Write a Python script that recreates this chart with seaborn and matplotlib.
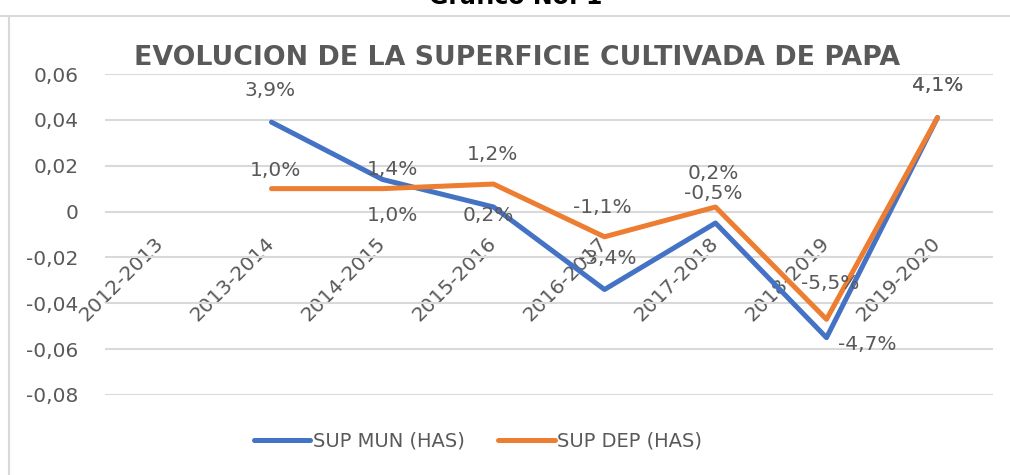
import numpy as np
import pandas as pd
import matplotlib
matplotlib.use("Agg")
import matplotlib.pyplot as plt
import seaborn as sns
from matplotlib.lines import Line2D
from matplotlib.ticker import FixedLocator, FuncFormatter

# ---- data ----
periodos = ["2012-2013", "2013-2014", "2014-2015", "2015-2016",
            "2016-2017", "2017-2018", "2018-2019", "2019-2020"]
sup_mun = [np.nan, 0.039, 0.014, 0.002, -0.034, -0.005, -0.055, 0.041]
sup_dep = [np.nan, 0.010, 0.010, 0.012, -0.011, 0.002, -0.047, 0.041]
series = ["SUP MUN (HAS)", "SUP DEP (HAS)"]
y_ticks = [-0.08, -0.06, -0.04, -0.02, 0.0, 0.02, 0.04, 0.06]
titulo = "EVOLUCION DE LA SUPERFICIE CULTIVADA DE PAPA"
encabezado = "Grafico No. 1"

# label offsets in pixels (dx right, dy up) - styling only
off_mun = [None, (-1, 32), (10, 10), (-5, -9), (3, 31), (-2, 30), (4, 54), (0, 32)]
off_dep = [None, (4, 18), (10, -27), (-1, 30), (-2, 29), (-2, 33), (41, -25), (0, 32)]

BLUE = "#4472C4"
ORANGE = "#ED7D31"
GRAY = "#595959"
GRID = "#d9d9d9"

sns.set_theme(style="white")
plt.rcParams["font.family"] = ["DejaVu Sans"]

W, H = 1010, 475
fig = plt.figure(figsize=(W / 100, H / 100), dpi=100)
ax = fig.add_axes([105 / W, 80 / H, 888 / W, 321 / H])

df = pd.DataFrame({
    "x": list(range(len(periodos))) * 2,
    "valor": sup_mun + sup_dep,
    "serie": [series[0]] * len(periodos) + [series[1]] * len(periodos),
})
sns.lineplot(data=df, x="x", y="valor", hue="serie", hue_order=series,
             palette=[BLUE, ORANGE], linewidth=3.6, errorbar=None,
             sort=False, ax=ax)
for ln in ax.lines:
    ln.set_solid_joinstyle("round")
    ln.set_solid_capstyle("round")

ax.set_xlim(-0.5, len(periodos) - 0.5)
ax.set_ylim(-0.08, 0.06)
ax.yaxis.set_major_locator(FixedLocator(y_ticks))
ax.yaxis.set_major_formatter(FuncFormatter(
    lambda v, p: "0" if abs(v) < 1e-9 else f"{v:.2f}".replace(".", ",")))
ax.grid(axis="y", color=GRID, linewidth=1.5)
ax.grid(axis="x", visible=False)
ax.set_axisbelow(True)
for s in ax.spines.values():
    s.set_visible(False)
ax.spines["bottom"].set_position(("data", 0))

ax.set_xticks(range(len(periodos)))
ax.set_xticklabels(periodos, rotation=45, ha="right", va="center",
                   rotation_mode="anchor")
ax.tick_params(axis="x", length=0, pad=21, labelsize=14.5, labelcolor=GRAY)
ax.tick_params(axis="y", length=0, pad=19, labelsize=14.5, labelcolor=GRAY)
ax.set_xlabel("")
ax.set_ylabel("")


def fmt(v):
    return f"{v * 100:.1f}%".replace(".", ",")


for vals, offs in ((sup_mun, off_mun), (sup_dep, off_dep)):
    for i, v in enumerate(vals):
        if np.isnan(v):
            continue
        dx, dy = offs[i]
        ax.annotate(fmt(v), (i, v), xytext=(dx * 0.72, dy * 0.72),
                    textcoords="offset points", ha="center", va="center",
                    fontsize=14.5, color=GRAY, annotation_clip=False)

handles, labels = ax.get_legend_handles_labels()
if ax.legend_ is not None:
    ax.legend_.remove()
fig.legend(handles, labels, loc="center", bbox_to_anchor=(478 / W, 1 - 441 / H),
           ncol=2, frameon=False, fontsize=14, handlelength=2.9,
           handletextpad=0.12, columnspacing=1.75, labelcolor=GRAY)

fig.text(517 / W, 1 - 58 / H, titulo, ha="center", va="center",
         fontsize=19.3, fontweight="bold", color=GRAY)
fig.text(516 / W, 1 - 4 / H, encabezado, ha="center", va="baseline",
         fontsize=17, fontweight="bold", color="black")

fig.add_artist(Line2D([0, 1], [1 - 16 / H] * 2, transform=fig.transFigure,
                      color=GRID, linewidth=1.5))
fig.add_artist(Line2D([9 / W] * 2, [0, 1 - 16 / H], transform=fig.transFigure,
                      color=GRID, linewidth=1.5))

fig.savefig("out.png", dpi=100)
